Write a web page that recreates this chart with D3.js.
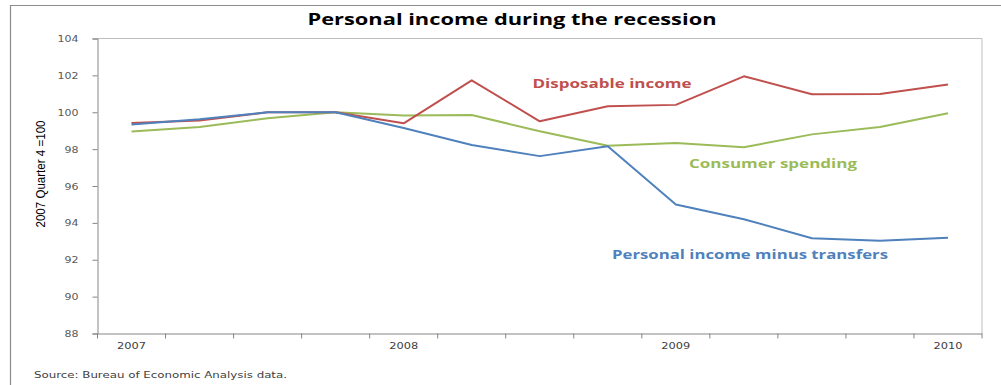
<!DOCTYPE html>
<html>
<head>
<meta charset="utf-8">
<script src="https://cdn.jsdelivr.net/npm/d3@7/dist/d3.min.js"></script>
<style>
  html, body { margin: 0; padding: 0; background: #fff; }
  svg { display: block; }
</style>
</head>
<body>
<svg id="chart" width="1001" height="385"></svg>
<script>
// Quarterly index values, 2007 Q4 = 100
const quarters = ["2007Q1","2007Q2","2007Q3","2007Q4","2008Q1","2008Q2","2008Q3","2008Q4",
                  "2009Q1","2009Q2","2009Q3","2009Q4","2010Q1"];
const disposableIncome = [99.42, 99.55, 100.0, 100.0, 99.4, 101.73, 99.51, 100.33, 100.4, 101.95, 100.98, 100.99, 101.5];
const consumerSpending = [98.95, 99.2, 99.68, 100.0, 99.82, 99.85, 98.97, 98.18, 98.33, 98.1, 98.8, 99.2, 99.95];
const incomeMinusTransfers = [99.33, 99.62, 100.0, 100.0, 99.15, 98.22, 97.62, 98.15, 95.0, 94.2, 93.17, 93.03, 93.19];
const yTicks = [88, 90, 92, 94, 96, 98, 100, 102, 104];

const series = [
  { name: "Disposable income", values: disposableIncome, color: "#C0504D", lx: 612, ly: 88 },
  { name: "Consumer spending", values: consumerSpending, color: "#9BBB59", lx: 773, ly: 168 },
  { name: "Personal income minus transfers", values: incomeMinusTransfers, color: "#4F81BD", lx: 750, ly: 259 }
];

const svg = d3.select("#chart");
const plot = { left: 97.5, right: 982, top: 38.5, bottom: 333.5 };

const x = d3.scaleBand().domain(quarters).range([plot.left, plot.right]).paddingInner(0).paddingOuter(0);
const y = d3.scaleLinear().domain([88, 104]).range([plot.bottom, plot.top]);

// Outer chart frame (left and top edges)
svg.append("path")
  .attr("d", "M10.5,385 L10.5,5.5 L1001,5.5")
  .attr("fill", "none").attr("stroke", "#8c8c8c").attr("stroke-width", 1.2);

// Plot area border (top and right)
svg.append("path")
  .attr("d", `M${plot.left},${plot.top} L${plot.right},${plot.top} L${plot.right},${plot.bottom}`)
  .attr("fill", "none").attr("stroke", "#bfbfbf").attr("stroke-width", 1);

// Title
svg.append("text")
  .attr("x", 512).attr("y", 25)
  .attr("text-anchor", "middle")
  .attr("font-family", "'Open Sans', 'DejaVu Sans', sans-serif")
  .attr("font-weight", 700).attr("font-size", 15.5)
  .attr("fill", "#000")
  .attr("textLength", 409).attr("lengthAdjust", "spacingAndGlyphs")
  .text("Personal income during the recession");

// Y axis
const yAxis = d3.axisLeft(y).tickValues(yTicks).tickSize(5).tickPadding(14).tickFormat(d3.format("d"));
const gy = svg.append("g").attr("transform", `translate(${plot.left},0)`).call(yAxis);
gy.select(".domain").attr("stroke", "#868686");
gy.selectAll(".tick line").attr("stroke", "#868686");
gy.selectAll(".tick text")
  .attr("font-family", "'DejaVu Sans', sans-serif")
  .attr("font-size", 9.5).attr("fill", "#595959")
  .attr("textLength", d => String(d).length * 7)
  .attr("lengthAdjust", "spacingAndGlyphs");

// X axis: year labels centred on each first quarter
const yearLabel = q => q.endsWith("Q1") ? q.slice(0, 4) : "";
const xAxis = d3.axisBottom(x).tickSize(0).tickPadding(9).tickFormat(yearLabel);
const gx = svg.append("g").attr("transform", `translate(0,${plot.bottom})`).call(xAxis);
gx.select(".domain").attr("stroke", "#868686");
gx.selectAll(".tick text")
  .attr("font-family", "'DejaVu Sans', sans-serif")
  .attr("font-size", 9.5).attr("fill", "#404040")
  .filter(q => yearLabel(q) !== "")
  .attr("textLength", 29)
  .attr("lengthAdjust", "spacingAndGlyphs");

// Tick marks between categories
const boundaries = quarters.map(q => x(q)).concat([x.range()[1]]);
gx.selectAll(".cat-tick").data(boundaries).enter().append("line")
  .attr("class", "cat-tick")
  .attr("x1", d => d).attr("x2", d => d)
  .attr("y1", 0).attr("y2", 5)
  .attr("stroke", "#868686");

// Y axis title
svg.append("text")
  .attr("transform", `translate(45,174) rotate(-90)`)
  .attr("text-anchor", "middle")
  .attr("font-family", "'Liberation Sans Narrow', 'Liberation Sans', sans-serif")
  .attr("font-size", 12.5).attr("fill", "#000")
  .attr("textLength", 107).attr("lengthAdjust", "spacingAndGlyphs")
  .text("2007 Quarter 4 =100");

// Series lines
const cx = q => x(q) + x.bandwidth() / 2;
const line = d3.line().x((d, i) => cx(quarters[i])).y(d => y(d));

// Draw order: spending, disposable, minus-transfers
[series[1], series[0], series[2]].forEach(s => {
  svg.append("path")
    .datum(s.values)
    .attr("d", line)
    .attr("fill", "none")
    .attr("stroke", s.color)
    .attr("stroke-width", 2)
    .attr("stroke-linejoin", "round");
});

// Series labels
const labelWidths = { "Disposable income": 159, "Consumer spending": 168, "Personal income minus transfers": 276 };
series.forEach(s => {
  svg.append("text")
    .attr("x", s.lx).attr("y", s.ly)
    .attr("text-anchor", "middle")
    .attr("font-family", "'Open Sans', 'DejaVu Sans', sans-serif")
    .attr("font-weight", 700).attr("font-size", 13)
    .attr("fill", s.color)
    .attr("textLength", labelWidths[s.name]).attr("lengthAdjust", "spacingAndGlyphs")
    .text(s.name);
});

// Source note
svg.append("text")
  .attr("x", 34).attr("y", 378)
  .attr("font-family", "'DejaVu Sans', sans-serif")
  .attr("font-size", 9.5).attr("fill", "#404040")
  .attr("textLength", 253).attr("lengthAdjust", "spacingAndGlyphs")
  .text("Source: Bureau of Economic Analysis data.");
</script>
</body>
</html>
